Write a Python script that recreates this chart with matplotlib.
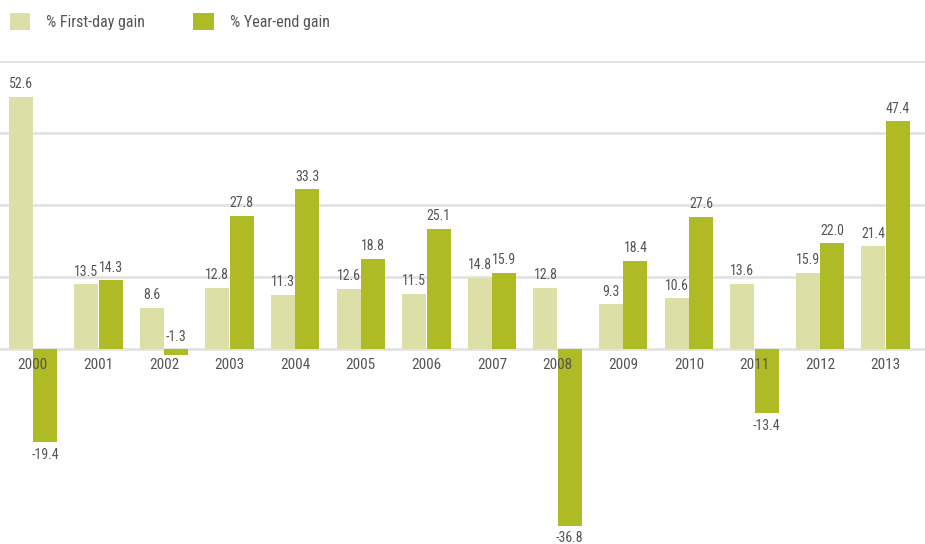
import matplotlib
matplotlib.use("Agg")
import matplotlib.pyplot as plt
import numpy as np

years = ["2000", "2001", "2002", "2003", "2004", "2005", "2006",
         "2007", "2008", "2009", "2010", "2011", "2012", "2013"]
first_day = [52.6, 13.5, 8.6, 12.8, 11.3, 12.6, 11.5, 14.8, 12.8, 9.3, 10.6, 13.6, 15.9, 21.4]
year_end = [-19.4, 14.3, -1.3, 27.8, 33.3, 18.8, 25.1, 15.9, -36.8, 18.4, 27.6, -13.4, 22.0, 47.4]
series_names = ["% First-day gain", "% Year-end gain"]
grid_values = [0, 15, 30, 45, 60]

plt.rcParams['font.family'] = ['Roboto Condensed', 'Liberation Sans Narrow', 'Roboto', 'DejaVu Sans']

LIGHT = "#dce0a6"
DARK = "#afbb24"
TXT = "#555555"
GRID = "#e3e3e3"

fig = plt.figure(figsize=(9.25, 5.44), dpi=100)
ax = fig.add_axes([0, 0, 1, (544 - 61) / 544])

x = np.arange(len(years))
w = 0.365
b1 = ax.bar(x - w / 2 - 0.004, first_day, w, color=LIGHT, zorder=2, label=series_names[0])
b2 = ax.bar(x + w / 2 + 0.004, year_end, w, color=DARK, zorder=2, label=series_names[1])

ax.set_xlim(-0.5, 13.6)
ax.set_ylim(-40.6, 60)
ax.set_yticks(grid_values)
ax.yaxis.grid(True, color=GRID, linewidth=2)
ax.set_axisbelow('line')
ax.tick_params(axis='y', length=0, labelleft=False)
ax.set_xticks([])
for s in ax.spines.values():
    s.set_visible(False)

# year labels just below the zero line
for xi, yr in zip(x, years):
    ax.annotate(yr, (xi, 0), xytext=(0, -11.5), textcoords='offset points',
                ha='center', va='center', fontsize=11, color=TXT, zorder=3)

def label_bars(bars, vals):
    for bar, v in zip(bars, vals):
        cx = bar.get_x() + bar.get_width() / 2
        if v >= 0 or abs(v) < 5:
            y = max(v, 0)
            ax.annotate(f"{v:.1f}", (cx, y), xytext=(0, 4), textcoords='offset points',
                        ha='center', va='bottom', fontsize=10, color=TXT, zorder=3)
        else:
            ax.annotate(f"{v:.1f}", (cx, v), xytext=(0, -4), textcoords='offset points',
                        ha='center', va='top', fontsize=10, color=TXT, zorder=3)

label_bars(b1, first_day)
label_bars(b2, year_end)

fig.legend(handles=[b1, b2], labels=series_names, loc='upper left',
           bbox_to_anchor=(0.0, 0.994), ncol=2, frameon=False,
           handlelength=1.3, handleheight=1.3, handletextpad=1.0,
           columnspacing=3.0, fontsize=11.5, labelcolor=TXT,
           borderaxespad=0.45, borderpad=0.15)

fig.savefig("out.png", dpi=100)
